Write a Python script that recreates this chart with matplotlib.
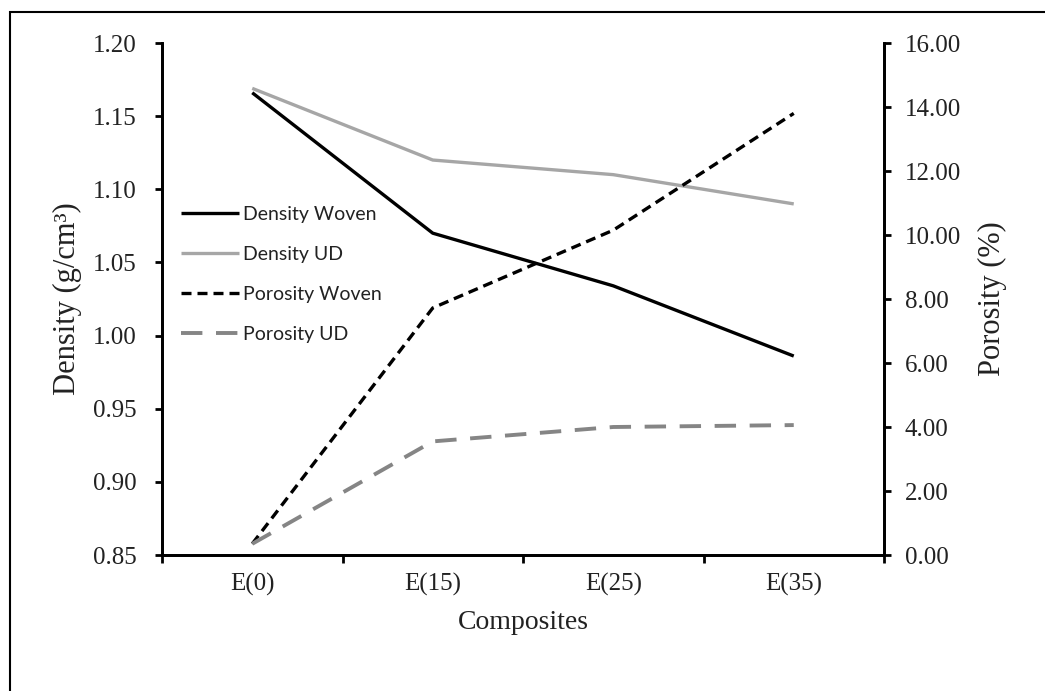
import matplotlib
matplotlib.use('Agg')
import matplotlib.pyplot as plt
from matplotlib.patches import Rectangle

# data
composites = ['E(0)', 'E(15)', 'E(25)', 'E(35)']
density_woven = [1.166, 1.070, 1.034, 0.986]
density_ud = [1.169, 1.120, 1.110, 1.090]
porosity_woven = [0.35, 7.72, 10.15, 13.80]
porosity_ud = [0.35, 3.55, 4.00, 4.06]

serif = 'Liberation Serif'
sans = 'Lato'

fig = plt.figure(figsize=(10.45, 6.91), dpi=100)
ax = fig.add_axes([162 / 1045, 1 - 555 / 691, 722 / 1045, 512 / 691])
ax2 = ax.twinx()

x = range(len(composites))
l1, = ax.plot(x, density_woven, color='black', lw=2.4, solid_capstyle='butt',
              label='Density Woven')
l2, = ax.plot(x, density_ud, color='#a6a6a6', lw=2.4, solid_capstyle='butt',
              label='Density UD')
l3, = ax2.plot(x, porosity_woven, color='black', lw=2.4, dashes=(3, 1.8),
               label='Porosity Woven')
l4, = ax2.plot(x, porosity_ud, color='#858585', lw=2.8, dashes=(5.5, 3.5),
               label='Porosity UD')

ax.set_xlim(-0.5, 3.5)
ax.set_ylim(0.85, 1.20)
ax2.set_ylim(0, 16)
ax.set_yticks([0.85 + 0.05 * i for i in range(8)])
ax.set_yticklabels(['%.2f' % (0.85 + 0.05 * i) for i in range(8)])
ax2.set_yticks(range(0, 17, 2))
ax2.set_yticklabels(['%.2f' % v for v in range(0, 17, 2)])

ax.set_xticks(list(x))
ax.set_xticklabels(composites)
ax.set_xticks([-0.5, 0.5, 1.5, 2.5, 3.5], minor=True)
ax.tick_params(axis='x', which='major', length=0, pad=13)
ax.tick_params(axis='x', which='minor', length=6, width=2, direction='out')
ax.tick_params(axis='y', length=5, width=2, direction='out', pad=13)
ax2.tick_params(axis='y', length=5, width=2, direction='out', pad=10)

for a in (ax, ax2):
    for lab in a.get_xticklabels() + a.get_yticklabels():
        lab.set_fontfamily(serif)
        lab.set_fontsize(18)
        lab.set_color('#222222')
    a.spines['top'].set_visible(False)
    for side in ('left', 'right', 'bottom'):
        a.spines[side].set_linewidth(2)

ax.set_xlabel('Composites', fontfamily=serif, fontsize=20, labelpad=10,
              color='#222222')
ax.set_ylabel('Density (g/cm³)', fontfamily=serif, fontsize=22, labelpad=8,
              color='#222222')
ax2.set_ylabel('Porosity (%)', fontfamily=serif, fontsize=22, labelpad=12,
               color='#222222')

leg = ax.legend(handles=[l1, l2, l3, l4], loc='upper left',
                bbox_to_anchor=(0.015, 0.697), frameon=False,
                prop={'family': sans, 'size': 14}, handlelength=3.0,
                handletextpad=0.2, labelspacing=1.18, borderaxespad=0)
for t in leg.get_texts():
    t.set_color('#222222')

# outer frame around the figure
fig.patches.append(Rectangle((10 / 1045, -0.05), 1.2, 1 - 12 / 691 + 0.05,
                             transform=fig.transFigure, fill=False,
                             edgecolor='black', lw=1.5))

fig.savefig('out.png', dpi=100)
